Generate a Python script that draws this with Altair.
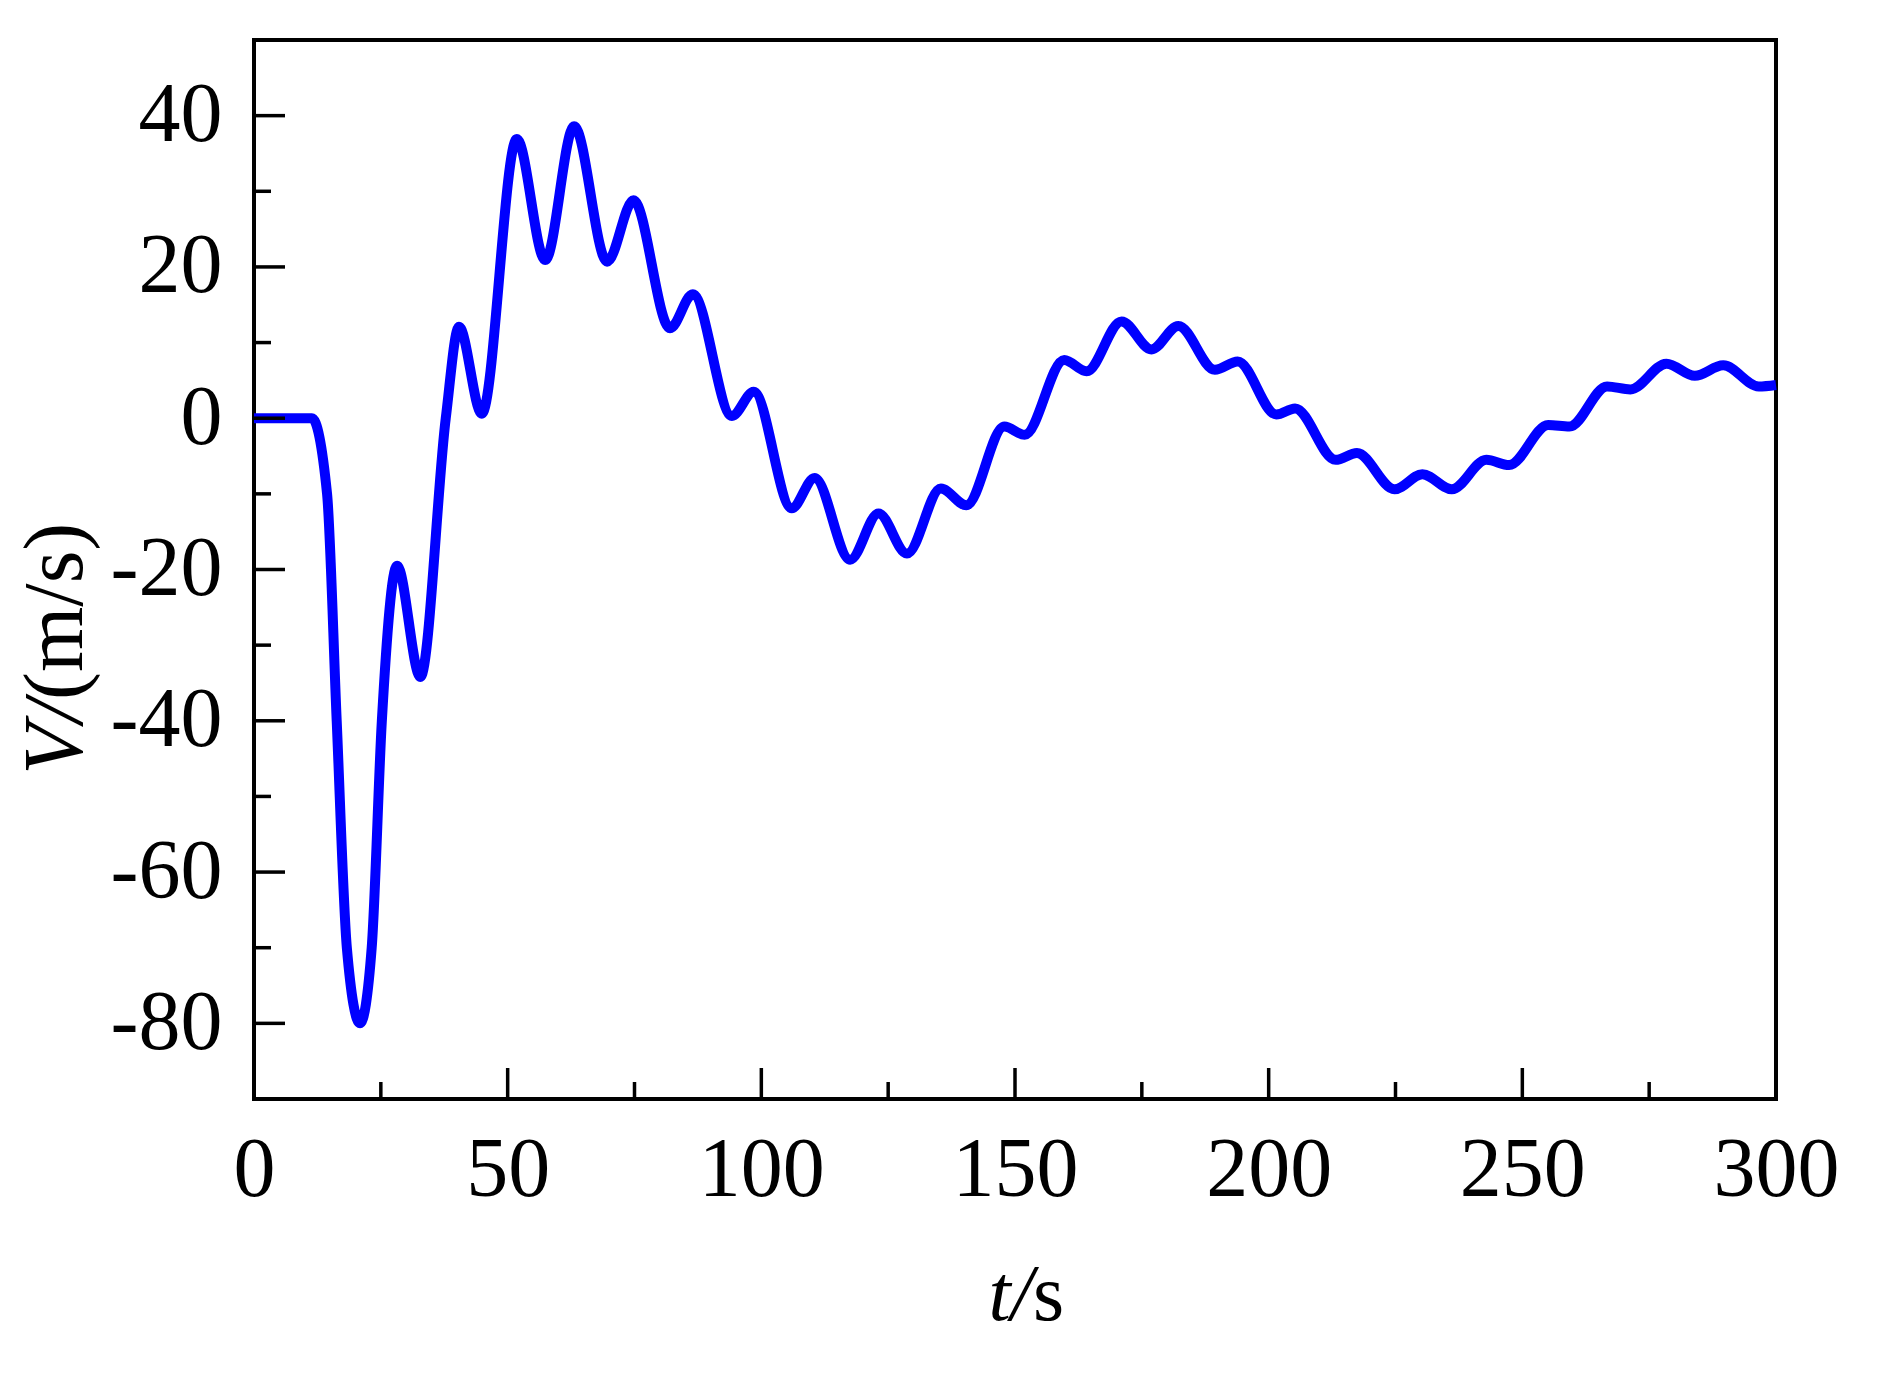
import altair as alt
import pandas as pd

# time (s) and velocity (m/s)
t_vals = [0, 11.4, 14.4, 16.3, 18.3, 20.9, 23.2, 25.2, 28.2, 32.8, 37.8,
          40.4, 44.9, 51.8, 57.4, 63.1, 69.6, 74.8, 82.0, 86.5, 94.2,
          98.5, 106.0, 110.5, 117.5, 123.1, 128.7, 135.4, 140.4, 147.9, 151.9,
          159.7, 164.1, 171.0, 176.9, 182.2, 189.4, 193.9, 201.5, 205.2, 213.2,
          217.4, 224.8, 230.3, 236.1, 242.9, 247.4, 255.1, 259.3, 266.7, 271.3,
          278.4, 284.0, 289.6, 296.6, 300]
v_vals = [0, 0, -10, -40, -70, -80.0, -70, -40, -19.5, -34.2, 0,
          12.1, 0.6, 36.9, 20.9, 38.6, 20.7, 28.8, 11.9, 16.4, 0.3,
          3.5, -11.9, -7.9, -18.7, -12.6, -17.9, -9.3, -11.5, -1.1, -2.2,
          7.7, 6.2, 12.8, 9.1, 12.2, 6.4, 7.5, 0.5, 1.3, -5.5,
          -4.6, -9.4, -7.4, -9.4, -5.5, -6.2, -0.9, -1.1, 4.2, 3.8,
          7.2, 5.6, 7.0, 4.2, 4.4]

x_major = [0, 50, 100, 150, 200, 250, 300]
x_minor = [25, 75, 125, 175, 225, 275]
y_major = [-80, -60, -40, -20, 0, 20, 40]
y_minor = [-70, -50, -30, -10, 10, 30]

W, H = 1522, 1059
FONT = "Liberation Serif"

df = pd.DataFrame({"t": t_vals, "V": v_vals})

xscale = alt.Scale(domain=[0, 300], nice=False, zero=False)
yscale = alt.Scale(domain=[-90, 50], nice=False, zero=False)

line = alt.Chart(df).mark_line(color="#0000FF", strokeWidth=10, interpolate="monotone").encode(
    x=alt.X("t:Q", scale=xscale, title=None,
            axis=alt.Axis(values=x_major, ticks=False, domain=False, grid=False,
                          labelFont=FONT, labelFontSize=84, labelColor="black",
                          labelPadding=30, labelExpr="'' + datum.value", labelFlush=False)),
    y=alt.Y("V:Q", scale=yscale, title=None,
            axis=alt.Axis(values=y_major, ticks=False, domain=False, grid=False,
                          labelFont=FONT, labelFontSize=84, labelColor="black",
                          labelPadding=32, labelExpr="'' + datum.value", labelFlush=False)),
)

def yticks(vals, length):
    return alt.Chart(pd.DataFrame({"V": vals})).mark_rule(color="black", strokeWidth=3.5).encode(
        y=alt.Y("V:Q", scale=yscale, title=None),
        x=alt.value(0), x2=alt.value(length))

def xticks(vals, length):
    return alt.Chart(pd.DataFrame({"t": vals})).mark_rule(color="black", strokeWidth=3.5).encode(
        x=alt.X("t:Q", scale=xscale, title=None),
        y=alt.value(H), y2=alt.value(H - length))

one = pd.DataFrame({"a": [0]})
xt1 = alt.Chart(one).mark_text(text="t/", font=FONT, fontSize=80, fontStyle="italic",
                               align="right", baseline="alphabetic", color="black").encode(
    x=alt.value(779), y=alt.value(1280))
xt2 = alt.Chart(one).mark_text(text="s", font=FONT, fontSize=80,
                               align="left", baseline="alphabetic", color="black").encode(
    x=alt.value(779), y=alt.value(1280))
yt1 = alt.Chart(one).mark_text(text="V/", font=FONT, fontSize=84, fontStyle="italic", angle=270,
                               align="right", baseline="alphabetic", color="black").encode(
    x=alt.value(-172), y=alt.value(660))
yt2 = alt.Chart(one).mark_text(text="(m/s)", font=FONT, fontSize=84, angle=270,
                               align="left", baseline="alphabetic", color="black").encode(
    x=alt.value(-172), y=alt.value(660))

chart = alt.layer(
    line,
    yticks(y_major, 31), yticks(y_minor, 17),
    xticks(x_major[1:-1], 31), xticks(x_minor, 17),
    xt1, xt2, yt1, yt2,
).properties(
    width=W, height=H,
    autosize=alt.AutoSizeParams(type="none"),
    padding={"left": 246, "top": 32, "right": 94, "bottom": 272},
    background="white",
).configure_view(stroke="black", strokeWidth=4)

chart.save("out.html", embed_options={"renderer": "svg", "actions": False})
